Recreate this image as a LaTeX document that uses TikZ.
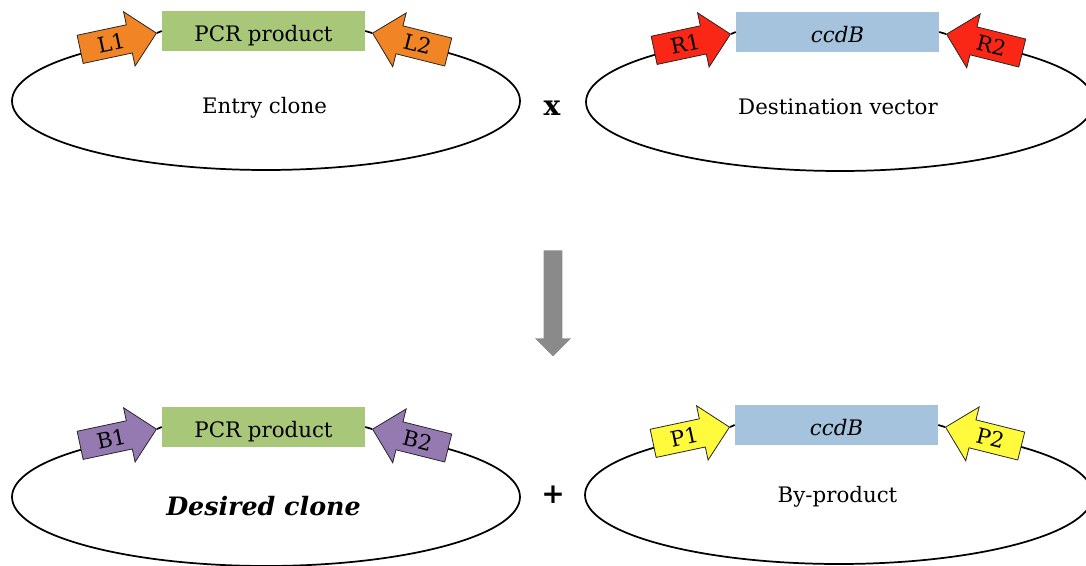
\documentclass[tikz,border=0pt]{standalone}
\usepackage{fontspec}
\setmainfont{DejaVu Serif}
\usetikzlibrary{shapes.arrows}

\definecolor{pcrgreen}{RGB}{168,199,120}
\definecolor{ccdblue}{RGB}{165,195,221}
\definecolor{attL}{RGB}{241,133,38}
\definecolor{attR}{RGB}{250,38,22}
\definecolor{attB}{RGB}{148,122,176}
\definecolor{attP}{RGB}{255,250,60}
\definecolor{flowgray}{RGB}{138,138,138}

\newcommand\labelfont{\fontsize{16}{19}\selectfont}

\tikzset{
  backbone/.style={line width=1.3pt, black},
  site/.style={single arrow, draw=black!85, line width=0.6pt, fill=#1,
    minimum height=58.5pt, minimum width=41pt, single arrow head extend=10pt,
    inner xsep=2pt, inner ysep=4.65pt, text height=11.7pt, text depth=0pt,
    font=\labelfont},
  gene/.style={fill=#1, minimum width=152.25pt, minimum height=30pt,
    inner sep=0pt, text height=16pt, text depth=0pt, font=\labelfont},
  caption/.style={font=\labelfont, inner sep=0pt, anchor=base},
}

% one plasmid: name, x shift, y shift, site colour, left site, right site,
% insert colour, insert text
\newcommand\plasmidunit[8]{%
  \begin{scope}[shift={(#2,#3)}]
    \draw[backbone] (86.4,-52.2) arc[start angle=135, end angle=405,
      x radius=254, y radius=69];
    \node[gene=#7] (#1-box) at (263.5,-31) {#8};
    \node[site=#4, anchor=tip, rotate=12] (#1-left) at (157,-33) {#5};
    \node[site=#4, shape border rotate=180, anchor=tip, rotate=-14]
      (#1-right) at (372,-33) {#6};
    \draw[backbone] (#1-left.tip) -- (#1-box.west);
    \draw[backbone] (#1-box.east) -- (#1-right.tip);
  \end{scope}}

\begin{document}
\begin{tikzpicture}[x=0.75pt,y=0.75pt]
  \useasboundingbox (0,0) rectangle (1086,-565);
  \clip (0,0) rectangle (1086,-565);

  % reactants
  \plasmidunit{entry}{0}{0}{attL}{L1}{L2}{pcrgreen}{PCR product}
  \plasmidunit{dest}{574}{-1}{attR}{R1}{R2}{ccdblue}{\itshape ccdB}
  \node[caption] (entrylbl) at (264.5,-113) {Entry clone};
  \node[caption] (destlbl) at (838,-114) {Destination vector};
  \node[caption, font=\fontsize{21}{24}\selectfont\bfseries] (times) at (552,-115) {x};

  % reaction arrow
  \node[single arrow, fill=flowgray, rotate=-90, anchor=tail,
    minimum height=79.5pt, minimum width=26.25pt, inner sep=6.75pt,
    single arrow head extend=6.4pt] (flow) at (553,-250) {};

  % products
  \plasmidunit{desired}{0}{-396}{attB}{B1}{B2}{pcrgreen}{PCR product}
  \plasmidunit{byprod}{573}{-394}{attP}{P1}{P2}{ccdblue}{\itshape ccdB}
  \node[caption, font=\fontsize{19}{23}\selectfont\bfseries\itshape]
    (desiredlbl) at (263.5,-515) {Desired clone};
  \node[caption] (byprodlbl) at (837.5,-502) {By-product};
  \node[caption, font=\fontsize{21}{24}\selectfont\bfseries] (plus) at (553,-503) {+};
\end{tikzpicture}
\end{document}
